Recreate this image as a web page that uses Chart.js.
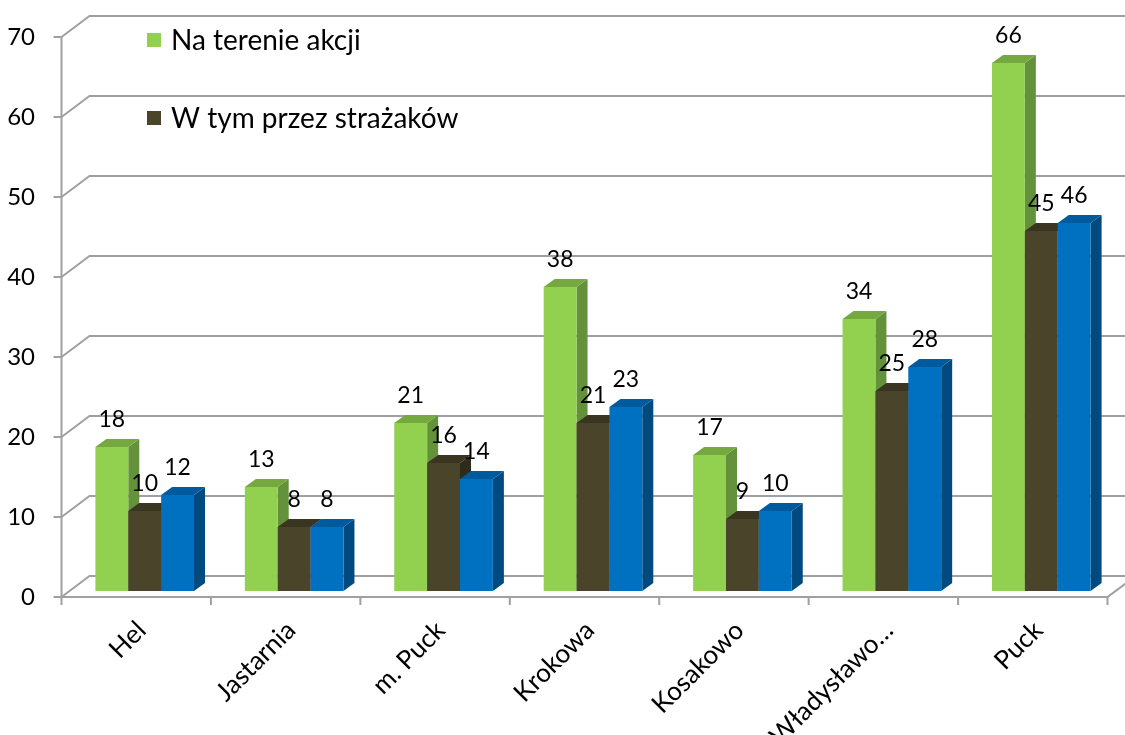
<!DOCTYPE html>
<html lang="pl">
<head>
    <meta charset="UTF-8">
    <title>Wykres</title>
    <script src="https://cdn.jsdelivr.net/npm/chart.js"></script>
    <style>
        body { margin: 0; background: #fff; }
        #wrap { width: 1125px; height: 735px; }
    </style>
</head>
<body>
    <div id="wrap"><canvas id="chart" width="1125" height="735"></canvas></div>

    <script>
        // dane z wykresu
        const categories = ['Hel', 'Jastarnia', 'm. Puck', 'Krokowa', 'Kosakowo', 'Władysławowo', 'Puck'];
        const seriesNames = ['Na terenie akcji', 'W tym przez strażaków', ''];
        const naTerenie = [18, 13, 21, 38, 17, 34, 66];
        const przezStrazakow = [10, 8, 16, 21, 9, 25, 45];
        const trzeciaSeria = [12, 8, 14, 23, 10, 28, 46];
        const yTicks = [0, 10, 20, 30, 40, 50, 60, 70];

        // kolory: przód, bok, góra
        const faces = [
            ['#92d050', '#64923a', '#76a840'],
            ['#4a442a', '#2f2b1a', '#3a3520'],
            ['#0070c0', '#004a80', '#005a9e']
        ];

        const FONT = 'Lato, "Open Sans", sans-serif';
        const toBack = { x: 19.5, y: -15 };   // ściana tylna względem słupków
        const toFront = { x: -8.5, y: 6 };    // oś przednia względem słupków
        const barDepth = { x: 11, y: -8 };
        const gridColor = '#a0a0a0';

        function poly(ctx, pts, color) {
            ctx.beginPath();
            ctx.moveTo(pts[0][0], pts[0][1]);
            for (let i = 1; i < pts.length; i++) ctx.lineTo(pts[i][0], pts[i][1]);
            ctx.closePath();
            ctx.fillStyle = color;
            ctx.fill();
        }

        const bars3d = {
            id: 'bars3d',
            beforeDatasetsDraw(chart) {
                const ctx = chart.ctx;
                const area = chart.chartArea;
                const ys = chart.scales.y;
                ctx.save();
                ctx.strokeStyle = gridColor;
                ctx.lineWidth = 2;

                // linie siatki na tylnej ścianie + skosy
                yTicks.forEach(v => {
                    const y = ys.getPixelForValue(v);
                    ctx.beginPath();
                    ctx.moveTo(area.left + toFront.x, y + toFront.y);
                    ctx.lineTo(area.left + toBack.x, y + toBack.y);
                    ctx.lineTo(chart.width, y + toBack.y);
                    ctx.stroke();
                    // znacznik osi
                    ctx.beginPath();
                    ctx.moveTo(area.left + toFront.x - 8, y + toFront.y);
                    ctx.lineTo(area.left + toFront.x, y + toFront.y);
                    ctx.stroke();
                });

                // oś pionowa z przodu
                const y0 = ys.getPixelForValue(0);
                const yMax = ys.getPixelForValue(yTicks[yTicks.length - 1]);
                ctx.beginPath();
                ctx.moveTo(area.left + toFront.x, y0 + toFront.y);
                ctx.lineTo(area.left + toFront.x, yMax + toFront.y);
                ctx.stroke();

                // podłoga - krawędź przednia
                ctx.beginPath();
                ctx.moveTo(area.left + toFront.x, y0 + toFront.y);
                ctx.lineTo(area.right + toFront.x, y0 + toFront.y);
                ctx.lineTo(area.right + toBack.x, y0 + toBack.y);
                ctx.stroke();
                const catW = (area.right - area.left) / categories.length;
                for (let i = 0; i <= categories.length; i++) {
                    const x = area.left + i * catW + toFront.x;
                    ctx.beginPath();
                    ctx.moveTo(x, y0 + toFront.y);
                    ctx.lineTo(x, y0 + toFront.y + 8);
                    ctx.stroke();
                }

                // słupki 3D
                const metas = chart.data.datasets.map((d, i) => chart.getDatasetMeta(i));
                for (let c = 0; c < categories.length; c++) {
                    metas.forEach((meta, di) => {
                        const el = meta.data[c];
                        const l = el.x - el.width / 2, r = el.x + el.width / 2;
                        const t = el.y, b = el.base;
                        const dx = barDepth.x, dy = barDepth.y;
                        poly(ctx, [[r, b], [r + dx, b + dy], [r + dx, t + dy], [r, t]], faces[di][1]);
                        poly(ctx, [[l, t], [l + dx, t + dy], [r + dx, t + dy], [r, t]], faces[di][2]);
                        poly(ctx, [[l, t], [r, t], [r, b], [l, b]], faces[di][0]);
                    });
                }

                // etykiety danych
                ctx.fillStyle = '#000';
                ctx.font = '23px ' + FONT;
                ctx.textAlign = 'center';
                ctx.textBaseline = 'middle';
                metas.forEach((meta, di) => {
                    meta.data.forEach((el, c) => {
                        ctx.fillText(String(chart.data.datasets[di].data[c]), el.x, el.y - 27);
                    });
                });

                // legenda
                ctx.font = '28px ' + FONT;
                ctx.textAlign = 'left';
                const legendY = [40, 118];
                chart.data.datasets.forEach((d, di) => {
                    if (!d.label) return;
                    ctx.fillStyle = faces[di][0];
                    ctx.fillRect(147, legendY[di] - 7, 14, 14);
                    ctx.fillStyle = '#000';
                    ctx.fillText(d.label, 171, legendY[di] + 1);
                });

                ctx.restore();
                return false;
            }
        };

        const chart = new Chart(document.getElementById('chart'), {
            type: 'bar',
            data: {
                labels: categories,
                datasets: [naTerenie, przezStrazakow, trzeciaSeria].map((vals, i) => ({
                    label: seriesNames[i],
                    data: vals,
                    backgroundColor: faces[i][0],
                    categoryPercentage: 0.66,
                    barPercentage: 1
                }))
            },
            options: {
                responsive: false,
                animation: false,
                layout: { padding: { top: 31, right: 9, left: 0, bottom: 0 } },
                plugins: {
                    legend: { display: false },
                    tooltip: { enabled: false }
                },
                scales: {
                    x: {
                        grid: { display: false, drawTicks: false },
                        border: { display: false },
                        afterFit: s => { s.height = 144; },
                        ticks: {
                            minRotation: 45,
                            maxRotation: 45,
                            padding: 24,
                            labelOffset: -3,
                            color: '#000',
                            font: { family: FONT, size: 26 },
                            callback: function (v) {
                                const t = this.getLabelForValue(v);
                                return t.length > 11 ? t.slice(0, 10) + '…' : t;
                            }
                        }
                    },
                    y: {
                        min: 0,
                        max: 70,
                        grid: { display: false, drawTicks: false },
                        border: { display: false },
                        afterFit: s => { s.width = 70; s.paddingTop = 0; s.paddingBottom = 0; },
                        ticks: {
                            stepSize: 10,
                            padding: 35,
                            labelOffset: 6,
                            color: '#000',
                            font: { family: FONT, size: 24 }
                        }
                    }
                }
            },
            plugins: [bars3d]
        });
    </script>
</body>
</html>
